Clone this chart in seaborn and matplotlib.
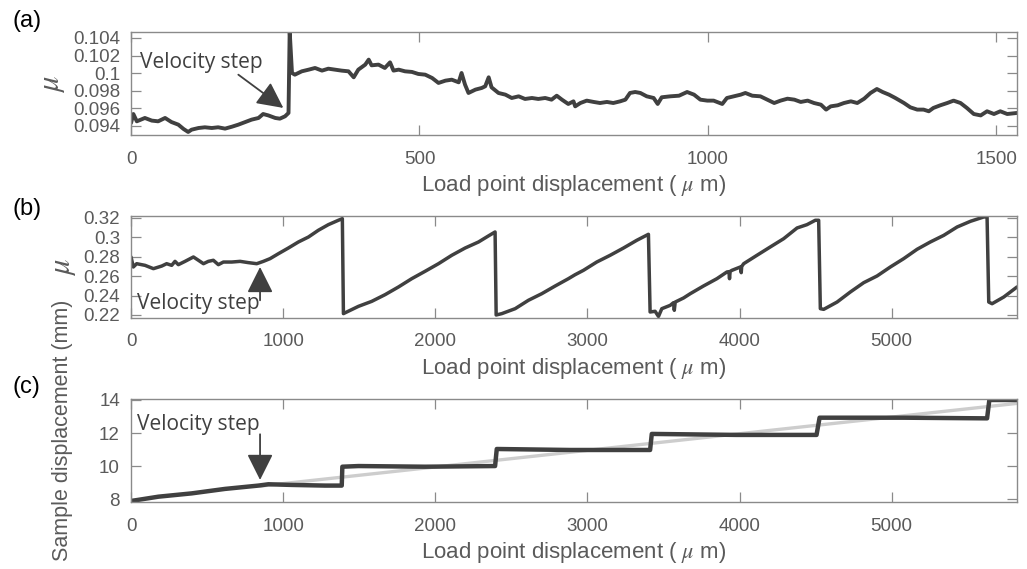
import matplotlib
matplotlib.use("Agg")
import matplotlib.pyplot as plt
import seaborn as sns

# ---- (a) friction coefficient during the short run ----
disp_a = [0, 4, 10, 24, 36, 47, 59, 70, 82, 91, 99, 105, 117, 128, 140, 151, 163,
          175, 186, 198, 209, 221, 229, 238, 250, 258, 267, 273, 275, 279, 284,
          296, 308, 319, 331, 342, 354, 365, 377, 386, 394, 406, 412, 417, 429,
          440, 449, 455, 464, 475, 487, 498, 510, 522, 533, 545, 556, 568, 573,
          579, 585, 597, 608, 614, 620, 625, 637, 649, 660, 672, 683, 695, 706,
          718, 729, 738, 747, 758, 767, 770, 779, 790, 802, 813, 825, 836, 848,
          857, 865, 874, 883, 894, 906, 913, 920, 935, 950, 964, 976, 987, 999,
          1010, 1025, 1033, 1045, 1057, 1065, 1077, 1091, 1103, 1115, 1126, 1138,
          1150, 1161, 1173, 1184, 1196, 1205, 1213, 1225, 1236, 1248, 1259, 1271,
          1282, 1293, 1303, 1314, 1325, 1340, 1351, 1363, 1374, 1383, 1391, 1403,
          1415, 1426, 1438, 1449, 1461, 1473, 1484, 1496, 1507, 1519, 1536]
mu_a = [0.09434, 0.09536, 0.09453, 0.09491, 0.09461, 0.09453, 0.09491, 0.09445,
        0.09415, 0.09366, 0.09332, 0.09358, 0.09377, 0.09385, 0.09377, 0.09385,
        0.09370, 0.09392, 0.09415, 0.09445, 0.09472, 0.09491, 0.09536, 0.09520,
        0.09491, 0.09483, 0.09510, 0.09548, 0.10480, 0.10002, 0.09983, 0.10021,
        0.10040, 0.10059, 0.10029, 0.10051, 0.10040, 0.10029, 0.10021, 0.09953,
        0.10040, 0.10097, 0.10154, 0.10089, 0.10097, 0.10059, 0.10123, 0.10029,
        0.10040, 0.10021, 0.10014, 0.09991, 0.09983, 0.09945, 0.09889, 0.09915,
        0.09926, 0.09896, 0.10002, 0.09870, 0.09775, 0.09813, 0.09832, 0.09851,
        0.09953, 0.09839, 0.09775, 0.09756, 0.09718, 0.09737, 0.09707, 0.09718,
        0.09707, 0.09718, 0.09699, 0.09744, 0.09699, 0.09650, 0.09680, 0.09623,
        0.09661, 0.09688, 0.09673, 0.09661, 0.09673, 0.09661, 0.09680, 0.09699,
        0.09775, 0.09786, 0.09775, 0.09737, 0.09718, 0.09650, 0.09726, 0.09737,
        0.09744, 0.09786, 0.09756, 0.09699, 0.09688, 0.09688, 0.09650, 0.09718,
        0.09737, 0.09756, 0.09775, 0.09744, 0.09737, 0.09699, 0.09661, 0.09688,
        0.09710, 0.09699, 0.09673, 0.09688, 0.09661, 0.09642, 0.09586, 0.09623,
        0.09635, 0.09661, 0.09680, 0.09661, 0.09710, 0.09775, 0.09820, 0.09786,
        0.09756, 0.09718, 0.09661, 0.09612, 0.09586, 0.09586, 0.09567, 0.09605,
        0.09635, 0.09661, 0.09688, 0.09661, 0.09605, 0.09536, 0.09520, 0.09567,
        0.09536, 0.09567, 0.09536, 0.09548]

# ---- (b) friction coefficient during the long run (stick-slip) ----
disp_b = [0, 15, 37, 92, 147, 202, 234, 267, 289, 311, 355, 410, 443, 476, 508,
          541, 574, 607, 662, 717, 771, 826, 870, 914, 969, 1034, 1100, 1166,
          1231, 1297, 1363, 1389, 1396, 1418, 1495, 1582, 1670, 1758, 1845, 1933,
          2021, 2108, 2196, 2284, 2349, 2393, 2400, 2437, 2525, 2612, 2700, 2788,
          2875, 2919, 2974, 3061, 3149, 3237, 3324, 3401, 3412, 3445, 3467, 3489,
          3544, 3566, 3571, 3577, 3632, 3676, 3763, 3851, 3917, 3930, 3934, 3938,
          3950, 4005, 4008, 4011, 4014, 4027, 4114, 4202, 4290, 4378, 4443, 4498,
          4520, 4531, 4553, 4641, 4728, 4816, 4904, 4991, 5079, 5167, 5254, 5342,
          5430, 5517, 5605, 5627, 5638, 5660, 5737, 5824]
mu_b = [0.2796, 0.2693, 0.2727, 0.2710, 0.2676, 0.2703, 0.2727, 0.2710, 0.2751,
        0.2717, 0.2751, 0.2796, 0.2762, 0.2727, 0.2751, 0.2762, 0.2717, 0.2744,
        0.2744, 0.2751, 0.2738, 0.2727, 0.2751, 0.2779, 0.2830, 0.2888, 0.2950,
        0.3001, 0.3070, 0.3128, 0.3173, 0.3190, 0.2214, 0.2231, 0.2289, 0.2340,
        0.2409, 0.2488, 0.2573, 0.2649, 0.2727, 0.2813, 0.2888, 0.2950, 0.3012,
        0.3053, 0.2200, 0.2214, 0.2265, 0.2351, 0.2419, 0.2498, 0.2573, 0.2614,
        0.2659, 0.2744, 0.2813, 0.2888, 0.2967, 0.3029, 0.2231, 0.2238, 0.2185,
        0.2265, 0.2299, 0.2327, 0.2248, 0.2333, 0.2375, 0.2419, 0.2498, 0.2573,
        0.2642, 0.2645, 0.2573, 0.2648, 0.2659, 0.2693, 0.2694, 0.2635, 0.2698,
        0.2727, 0.2813, 0.2899, 0.2984, 0.3094, 0.3128, 0.3173, 0.3173, 0.2265,
        0.2258, 0.2333, 0.2436, 0.2532, 0.2601, 0.2693, 0.2779, 0.2875, 0.2950,
        0.3018, 0.3104, 0.3162, 0.3207, 0.3207, 0.2333, 0.2316, 0.2385, 0.2488]

# ---- (c) sample displacement and its steady trend ----
disp_c = [0, 180, 399, 618, 837, 903, 1056, 1275, 1385, 1389, 1495, 1933, 2393,
          2404, 2886, 3412, 3423, 3980, 4506, 4526, 5077, 5627, 5642, 5824]
sample_c = [7.90, 8.16, 8.36, 8.63, 8.83, 8.91, 8.87, 8.83, 8.83, 9.97, 10.01,
            9.97, 10.01, 11.04, 10.98, 10.98, 11.95, 11.89, 11.89, 12.93, 12.93,
            12.89, 14.00, 14.00]
trend_disp_c = [850, 5830]
trend_c = [8.80, 13.80]

# ---- ticks ----
xticks_a = [0, 500, 1000, 1500]
xticks_bc = [0, 1000, 2000, 3000, 4000, 5000]
yticks_a = [0.094, 0.096, 0.098, 0.100, 0.102, 0.104]
ylabels_a = ["0.094", "0.096", "0.098", "0.1", "0.102", "0.104"]
yticks_b = [0.22, 0.24, 0.26, 0.28, 0.30, 0.32]
ylabels_b = ["0.22", "0.24", "0.26", "0.28", "0.3", "0.32"]
yticks_c = [8, 10, 12, 14]
ylabels_c = ["8", "10", "12", "14"]

XLABEL = r"Load point displacement ( $\mu$ m)"
DARK = "#404040"
GREY_TXT = "#5a5a5a"
GREY_AX = "#8a8a8a"

sns.set_theme(style="ticks")
plt.rcParams["font.family"] = ["Liberation Sans", "DejaVu Sans"]
plt.rcParams["mathtext.fontset"] = "stix"

fig = plt.figure(figsize=(10.27, 5.69), dpi=100)
ax_a = fig.add_axes([0.1276, 0.7622, 0.8627, 0.1816])
ax_b = fig.add_axes([0.1276, 0.4411, 0.8627, 0.1793])
ax_c = fig.add_axes([0.1276, 0.1172, 0.8627, 0.1816])


def frame(ax):
    for sp in ax.spines.values():
        sp.set_visible(True)
        sp.set_color(GREY_AX)
        sp.set_linewidth(1.0)
    ax.tick_params(axis="both", direction="in", length=7, width=0.9,
                   color=GREY_AX, top=True, right=True, labelsize=13.5,
                   labelcolor=GREY_TXT)
    ax.tick_params(axis="x", pad=11)
    ax.tick_params(axis="y", pad=8)
    ax.set_xlabel(XLABEL, fontsize=16, color=GREY_TXT, labelpad=4)
    ax.grid(False)


# (a)
sns.lineplot(x=disp_a, y=mu_a, ax=ax_a, color=DARK, linewidth=2.8,
             estimator=None, sort=False)
ax_a.set_xlim(0, 1536)
ax_a.set_ylim(0.09294, 0.10468)
ax_a.set_xticks(xticks_a)
ax_a.set_yticks(yticks_a)
ax_a.set_yticklabels(ylabels_a)
frame(ax_a)
ax_a.set_ylabel(r"$\mu$", fontsize=22, color=GREY_TXT, labelpad=4)

# (b)
sns.lineplot(x=disp_b, y=mu_b, ax=ax_b, color=DARK, linewidth=2.5,
             estimator=None, sort=False)
ax_b.set_xlim(0, 5824)
ax_b.set_ylim(0.2169, 0.3217)
ax_b.set_xticks(xticks_bc)
ax_b.set_yticks(yticks_b)
ax_b.set_yticklabels(ylabels_b)
frame(ax_b)
ax_b.set_ylabel(r"$\mu$", fontsize=22, color=GREY_TXT, labelpad=4)

# (c)
sns.lineplot(x=trend_disp_c, y=trend_c, ax=ax_c, color="#cdcdcd", linewidth=2.4,
             estimator=None, sort=False)
sns.lineplot(x=disp_c, y=sample_c, ax=ax_c, color=DARK, linewidth=3.2,
             estimator=None, sort=False)
ax_c.set_xlim(0, 5824)
ax_c.set_ylim(7.82, 14.06)
ax_c.set_xticks(xticks_bc)
ax_c.set_yticks(yticks_c)
ax_c.set_yticklabels(ylabels_c)
frame(ax_c)

fig.text(63 / 1027, 1 - 430 / 569, "Sample displacement (mm)", rotation=90,
         ha="center", va="center", fontsize=15.5, color=GREY_TXT)

# velocity-step annotations
note_kw = dict(fontsize=15, color=DARK, family=["Open Sans", "DejaVu Sans"],
               va="baseline", ha="left")
arrow_kw = dict(arrowstyle="-|>,head_length=0.8,head_width=0.4", color=DARK,
                lw=1.3, shrinkA=0, shrinkB=0, mutation_scale=20)

ax_a.text(16, 0.1006, "Velocity step", **note_kw)
ax_a.annotate("", xy=(264, 0.09605), xytext=(186, 0.09983), arrowprops=arrow_kw)

ax_b.text(39, 0.2258, "Velocity step", **note_kw)
ax_b.annotate("", xy=(848, 0.2693), xytext=(848, 0.2351), arrowprops=arrow_kw)

ax_c.text(39, 12.17, "Velocity step", **note_kw)
ax_c.annotate("", xy=(848, 9.17), xytext=(848, 11.93), arrowprops=arrow_kw)

# panel letters
for letter, ypix in (("(a)", 21), ("(b)", 209), ("(c)", 387)):
    fig.text(12 / 1027, 1 - ypix / 569, letter, ha="left", va="center",
             fontsize=17, color="black")

fig.savefig("out.png", dpi=100)
